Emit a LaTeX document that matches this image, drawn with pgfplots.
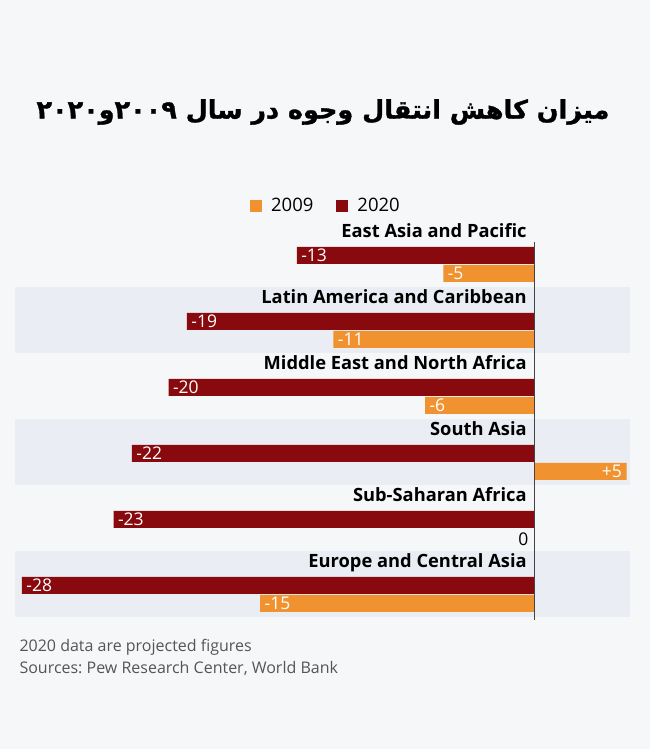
\documentclass[border=0pt]{standalone}
\usepackage{pgfplots}
\pgfplotsset{compat=1.18}
\usepackage{fontspec}
\setmainfont{Open Sans}
\newfontfamily\arabicfont[Script=Arabic, BoldFeatures={FakeBold=1.2}]{DejaVu Sans}
\TeXXeTstate=1
\frenchspacing
\definecolor{bg}{HTML}{F6F7F9}
\definecolor{band}{HTML}{EAEEF4}
\definecolor{org}{HTML}{F0922F}
\definecolor{dred}{HTML}{880A0E}
\definecolor{foot}{HTML}{555555}
\definecolor{zline}{HTML}{444444}
\begin{document}
\begin{tikzpicture}[x=1pt,y=1pt]
\fill[bg] (0,0) rectangle (650,749);
\useasboundingbox (0,0) rectangle (650,749);
\node[font=\arabicfont\bfseries\fontsize{25.5}{30}\selectfont] at (323,637) {\beginR میزان کاهش انتقال وجوه در سال ۲۰۰۹و۲۰۲۰\endR};
\node[anchor=base west, font=\fontsize{16}{18}\selectfont, text=foot] at (16,97) {2020 data are projected figures};
\node[anchor=base west, font=\fontsize{16}{18}\selectfont, text=foot] at (16,75) {Sources: Pew Research Center, World Bank};
\begin{axis}[at={(15pt,132pt)}, anchor=south west, scale only axis,
  width=615pt, height=396pt, xmin=-28.38, xmax=5.19, ymin=-617, ymax=-221,
  hide axis, clip=false,
  legend style={at={(0.382,1.038)}, anchor=west, draw=none, fill=none, inner sep=0pt,
    font=\fontsize{18.5}{20}\selectfont, legend columns=2,
    /tikz/every odd column/.append style={column sep=7pt},
    /tikz/every even column/.append style={column sep=21pt},
    nodes={inner sep=2pt}},
  ]
\fill[band] (axis cs:-28.38,-287) rectangle (axis cs:5.19,-353);
\fill[band] (axis cs:-28.38,-419) rectangle (axis cs:5.19,-485);
\fill[band] (axis cs:-28.38,-551) rectangle (axis cs:5.19,-617);
\addplot[xbar, bar width=17pt, fill=org, draw=none,
  legend image code/.code={\fill[org] (0pt,-6pt) rectangle (12pt,6pt);}]
  coordinates {(-5,-273.5) (-11,-339.5) (-6,-405.5) (5,-471.5) (0,-537.5) (-15,-603.5)};
\addlegendentry{2009}
\addplot[xbar, bar width=17pt, fill=dred, draw=none,
  legend image code/.code={\fill[dred] (0pt,-6pt) rectangle (12pt,6pt);}]
  coordinates {(-13,-255.5) (-19,-321.5) (-20,-387.5) (-22,-453.5) (-23,-519.5) (-28,-585.5)};
\addlegendentry{2020}
\draw[zline, line width=1pt] (axis cs:0,-242) -- (axis cs:0,-620);
% category labels
\begin{scope}[every node/.style={anchor=base east, inner sep=0pt, font=\bfseries\fontsize{18.3}{20}\selectfont, text=black}]
\node at (axis cs:-0.44,-238) {East Asia and Pacific};
\node at (axis cs:-0.44,-304) {Latin America and Caribbean};
\node at (axis cs:-0.44,-370) {Middle East and North Africa};
\node at (axis cs:-0.44,-436) {South Asia};
\node at (axis cs:-0.44,-502) {Sub-Saharan Africa};
\node at (axis cs:-0.44,-568) {Europe and Central Asia};
\end{scope}
% value labels
\begin{scope}[every node/.style={anchor=west, xshift=1pt, font=\fontsize{17.5}{19}\selectfont, text=white}]
\node at (axis cs:-13,-255.5) {-13};
\node at (axis cs:-19,-321.5) {-19};
\node at (axis cs:-20,-387.5) {-20};
\node at (axis cs:-22,-453.5) {-22};
\node at (axis cs:-23,-519.5) {-23};
\node at (axis cs:-28,-585.5) {-28};
\node at (axis cs:-5,-273.5) {-5};
\node at (axis cs:-11,-339.5) {-11};
\node at (axis cs:-6,-405.5) {-6};
\node at (axis cs:-15,-603.5) {-15};
\end{scope}
\node[anchor=east, xshift=-1pt, font=\fontsize{17.5}{19}\selectfont, text=white] at (axis cs:5,-471.5) {+5};
\node[anchor=east, xshift=-3pt, font=\fontsize{17.5}{19}\selectfont, text=black] at (axis cs:0,-539) {0};
\end{axis}
\end{tikzpicture}
\end{document}
